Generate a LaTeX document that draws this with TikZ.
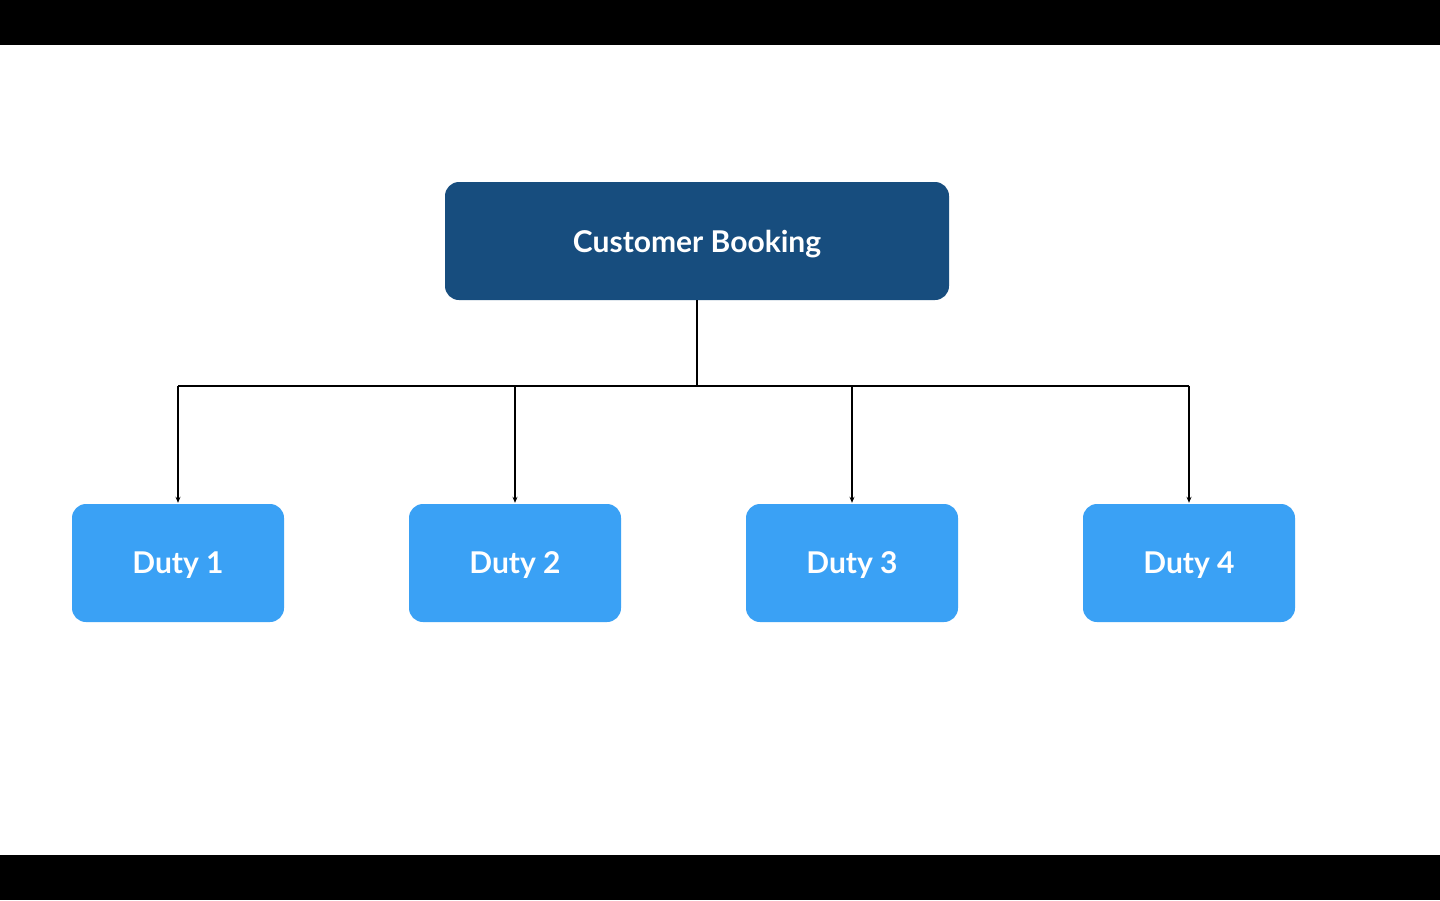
\documentclass[tikz,border=0pt]{standalone}
\usepackage{fontspec}
\setmainfont{Lato}
\usetikzlibrary{arrows.meta}
\definecolor{darkbox}{HTML}{174D7E}
\definecolor{lightbox}{HTML}{3AA1F5}
\begin{document}
\begin{tikzpicture}[x=1pt,y=-1pt,
  boxtext/.style={text=white,font=\bfseries\fontsize{30}{34}\selectfont,inner sep=0pt,text depth=0pt,rounded corners=14pt,minimum height=118pt},
  topbox/.style={boxtext,fill=darkbox,minimum width=504pt},
  dutybox/.style={boxtext,fill=lightbox,minimum width=212pt},
  conn/.style={line width=2pt,black},
  arr/.style={conn,-{Stealth[length=6pt,width=5pt]}}]
\fill[white] (0,0) rectangle (1440,900);
\fill[black] (0,0) rectangle (1440,45);
\fill[black] (0,855) rectangle (1440,900);
\node[topbox] (top) at (697,241) {Customer Booking};
\node[dutybox] (d1) at (178,563) {Duty 1};
\node[dutybox] (d2) at (515,563) {Duty 2};
\node[dutybox] (d3) at (852,563) {Duty 3};
\node[dutybox] (d4) at (1189,563) {Duty 4};
\coordinate (bus) at (697,385.5);
\coordinate (bl) at (178,385.5);
\coordinate (br) at (1189,385.5);
\draw[conn] (top.south) -- (bus);
\draw[conn] (bl) -- (br);
\draw[arr] (d1.north |- bus) -- ([yshift=1pt]d1.north);
\draw[arr] (d2.north |- bus) -- ([yshift=1pt]d2.north);
\draw[arr] (d3.north |- bus) -- ([yshift=1pt]d3.north);
\draw[arr] (d4.north |- bus) -- ([yshift=1pt]d4.north);
\end{tikzpicture}
\end{document}
